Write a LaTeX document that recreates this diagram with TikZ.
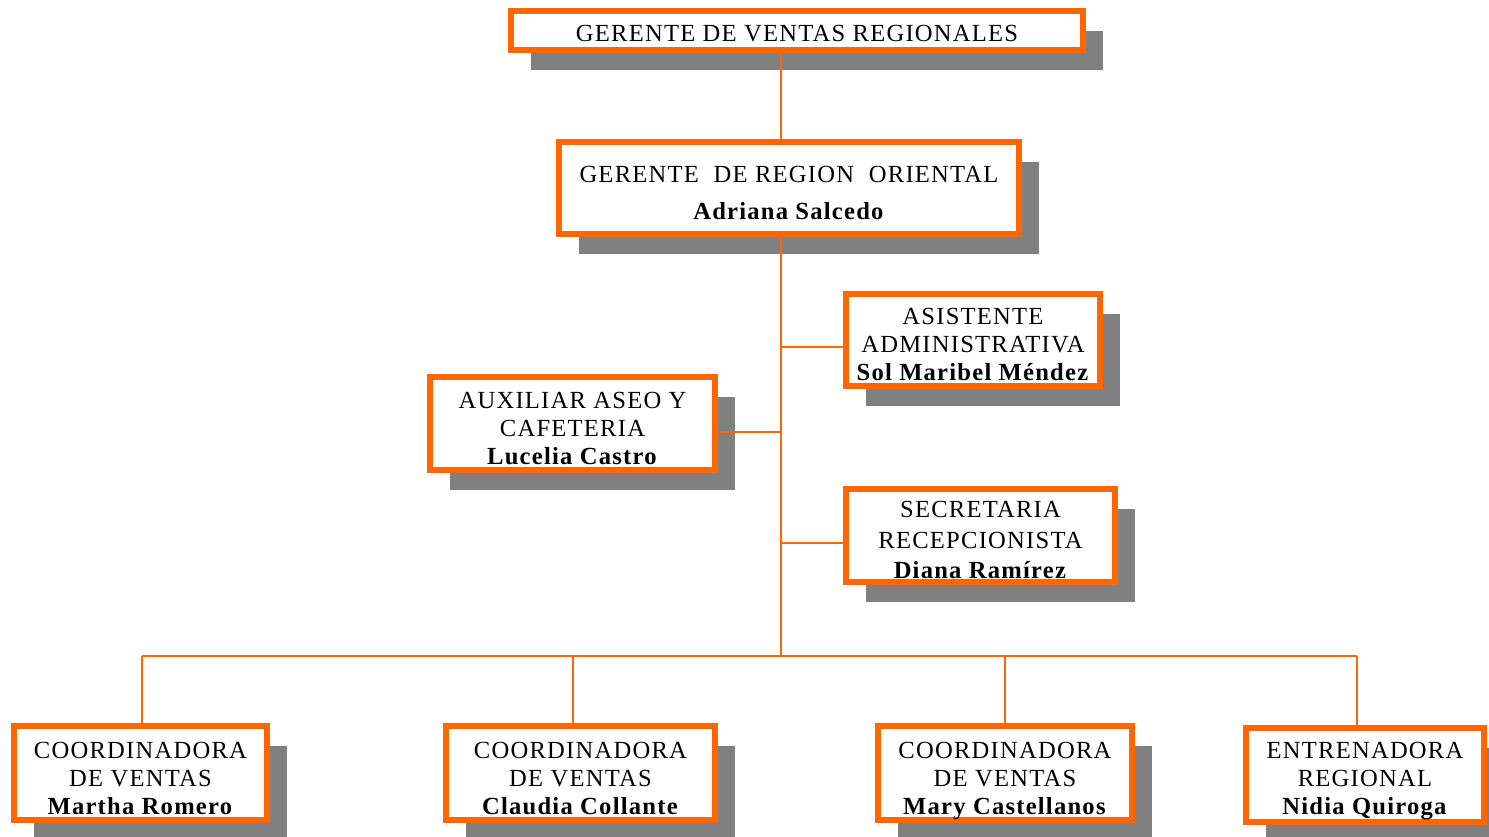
\documentclass[tikz,border=0pt]{standalone}
\usepackage{fontspec}
\setmainfont[LetterSpace=5]{Liberation Serif}
\usetikzlibrary{shadows}
\usetikzlibrary{positioning}
\definecolor{naranja}{HTML}{FF6600}
\definecolor{sombra}{HTML}{808080}
\newcommand{\cargotexto}[2][0.28cm]{\raisebox{-#1}[0pt][0pt]{\begin{tabular}{@{}c@{}}#2\end{tabular}}}
\tikzset{
  cargo/.style={draw=naranja, line width=0.12cm, fill=white, align=center,
    inner sep=0pt, font=\fontsize{14}{16}\selectfont,
    drop shadow={shadow xshift=0.4cm, shadow yshift=-0.4cm, fill=sombra, opacity=1}},
  enlace/.style={draw=naranja, line width=0.04cm}
}

\begin{document}
\begin{tikzpicture}[x=0.02cm, y=-0.02cm]
        % Fix the page size
        \useasboundingbox (0,0) rectangle (1489,837);
        % Upper levels
        \node[cargo, minimum width=11.44cm, minimum height=0.78cm] (gerente) at (797,30.5)
          {\cargotexto[0.24cm]{GERENTE DE VENTAS REGIONALES}};
        \node[cargo, minimum width=9.2cm, minimum height=1.84cm] (oriental) at (789,188)
          {\cargotexto{GERENTE\ \ DE REGION\ \ ORIENTAL\\[0.18cm] \textbf{Adriana Salcedo}}};
        % Staff boxes
        \node[cargo, minimum width=5.08cm, minimum height=1.84cm] (asistente) at (973,340)
          {\cargotexto[0.26cm]{ASISTENTE\\ ADMINISTRATIVA\\ \textbf{Sol Maribel Méndez}}};
        \node[cargo, minimum width=5.7cm, minimum height=1.86cm] (auxiliar) at (572.5,423.5)
          {\cargotexto{AUXILIAR ASEO Y\\ CAFETERIA\\ \textbf{Lucelia Castro}}};
        \node[cargo, minimum width=5.38cm, minimum height=1.86cm] (secretaria) at (980.5,535.5)
          {\cargotexto[0.27cm]{SECRETARIA\\[0.05cm] RECEPCIONISTA\\[0.05cm] \textbf{Diana Ramírez}}};
        % Bottom row
        \node[cargo, minimum width=5.06cm, minimum height=1.88cm] (coord1) at (140.5,773)
          {\cargotexto{COORDINADORA\\ DE VENTAS\\ \textbf{Martha Romero}}};
        \node[cargo, minimum width=5.38cm, minimum height=1.88cm] (coord2) at (580.5,773)
          {\cargotexto{COORDINADORA\\ DE VENTAS\\ \textbf{Claudia Collante}}};
        \node[cargo, minimum width=5.08cm, minimum height=1.88cm] (coord3) at (1005,773)
          {\cargotexto{COORDINADORA\\ DE VENTAS\\ \textbf{Mary Castellanos}}};
        \node[cargo, minimum width=4.76cm, minimum height=1.88cm] (entrenadora) at (1365,775)
          {\cargotexto[0.24cm]{ENTRENADORA\\ REGIONAL\\ \textbf{Nidia Quiroga}}};
        % Connectors
        \coordinate (union) at (781,656);
        \draw[enlace] (gerente.south -| union) -- (oriental.north -| union);
        \draw[enlace] (oriental.south -| union) -- (union);
        \draw[enlace] ([yshift=-0.14cm]asistente.west) -- ([yshift=-0.14cm]asistente.west -| union);
        \draw[enlace] ([yshift=-0.17cm]auxiliar.east) -- ([yshift=-0.17cm]auxiliar.east -| union);
        \draw[enlace] ([yshift=-0.15cm]secretaria.west) -- ([yshift=-0.15cm]secretaria.west -| union);
        \draw[enlace] ([xshift=0.03cm]coord1.north |- union) -- ([xshift=-0.16cm]entrenadora.north |- union);
        \draw[enlace] ([xshift=0.03cm]coord1.north) -- ([xshift=0.03cm]coord1.north |- union);
        \draw[enlace] ([xshift=-0.15cm]coord2.north) -- ([xshift=-0.15cm]coord2.north |- union);
        \draw[enlace] (coord3.north) -- (coord3.north |- union);
        \draw[enlace] ([xshift=-0.16cm]entrenadora.north) -- ([xshift=-0.16cm]entrenadora.north |- union);
      \end{tikzpicture}
\end{document}
